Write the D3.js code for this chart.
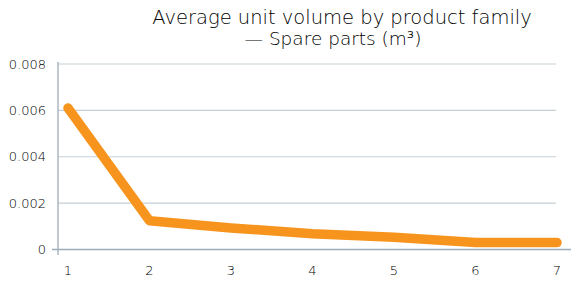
<!DOCTYPE html>
<html><head><meta charset="utf-8">
<script src="https://cdn.jsdelivr.net/npm/d3@7"></script>
<style>
html,body{margin:0;padding:0;background:#fff;}
svg{display:block;}
text{font-family:"DejaVu Sans",sans-serif;font-weight:200;fill:#000;}
</style></head>
<body><svg id="c" width="572" height="283"></svg>
<script>
const categories = [1, 2, 3, 4, 5, 6, 7];
const values = [0.0061, 0.00124, 0.00093, 0.00068, 0.00053, 0.0003, 0.0003];
const yTicks = [0, 0.002, 0.004, 0.006, 0.008];
const yTickLabels = ["0", "0.002", "0.004", "0.006", "0.008"];
const titleLines = ["Average unit volume by product family", "— Spare parts (m³)"];

const svg = d3.select("#c");
const x = d3.scaleLinear().domain([1, 7]).range([68, 557]);
const y = d3.scaleLinear().domain([0, 0.008]).range([249.5, 64]);

// gridlines
svg.append("g").selectAll("line").data(yTicks.slice(1)).join("line")
  .attr("x1", 58).attr("x2", 556)
  .attr("y1", d => y(d)).attr("y2", d => y(d))
  .attr("stroke", "#c5cfd6").attr("stroke-width", 1.2);

// axes
svg.append("line").attr("x1", 52).attr("x2", 571).attr("y1", y(0)).attr("y2", y(0))
  .attr("stroke", "#9fadb8").attr("stroke-width", 1.5);
svg.append("line").attr("x1", 58).attr("x2", 58).attr("y1", 62).attr("y2", 255)
  .attr("stroke", "#9fadb8").attr("stroke-width", 1.3);

// y tick labels
svg.append("g").selectAll("text").data(yTicks).join("text")
  .attr("x", 46).attr("y", d => y(d)).attr("dy", "0.35em")
  .attr("text-anchor", "end").attr("font-size", 13)
  .text((d, i) => yTickLabels[i]);

// x tick labels
svg.append("g").selectAll("text").data(categories).join("text")
  .attr("x", d => x(d)).attr("y", 275)
  .attr("text-anchor", "middle").attr("font-size", 13)
  .text(d => d);

// line
const line = d3.line().x((d, i) => x(categories[i])).y(d => y(d));
svg.append("path").datum(values).attr("d", line)
  .attr("fill", "none").attr("stroke", "#f7941d").attr("stroke-width", 9.5)
  .attr("stroke-linecap", "round").attr("stroke-linejoin", "round");

// title
svg.append("text").attr("x", 342).attr("y", 24).attr("text-anchor", "middle")
  .attr("font-size", 19.5).text(titleLines[0]);
svg.append("text").attr("x", 333).attr("y", 45).attr("text-anchor", "middle")
  .attr("font-size", 18.5).text(titleLines[1]);
</script></body></html>
